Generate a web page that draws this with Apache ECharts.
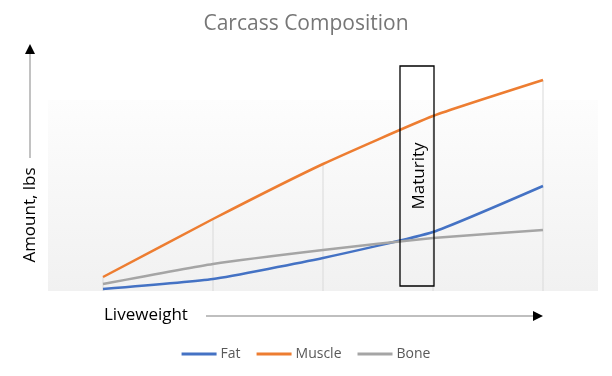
<!DOCTYPE html>
<html>
<head>
<meta charset="utf-8">
<script src="https://cdn.jsdelivr.net/npm/echarts@6/dist/echarts.min.js"></script>
<style>
	html, body {margin: 0; padding: 0; background: #fff;}
	#chart {width: 612px; height: 376px;}
</style>
</head>
<body>
<div id="chart"></div>
<script>
var aStages = ["1", "2", "3", "4", "5"];
var aFat = [2, 12, 33, 59, 105];
var aMuscle = [14, 72, 127, 175, 211];
var aBone = [7, 27, 41, 53, 61];
var aLegend = ["Fat", "Muscle", "Bone"];

var sFont = "Open Sans";

function lineSeries(name, data, color) {
	return {
		name: name,
		type: "line",
		data: data,
		smooth: 0.15,
		symbol: "none",
		clip: false,
		z: 5,
		lineStyle: {color: color, width: 2.5},
		itemStyle: {color: color}
	};
}

var oChart = echarts.init(document.getElementById("chart"));
var oChartOpt = {
	animation: false,
	title: {
		text: "Carcass Composition",
		left: "center",
		top: 9,
		textStyle: {fontFamily: sFont, fontSize: 21, fontWeight: "normal", color: "#767676"}
	},
	legend: {
		data: aLegend,
		bottom: 10,
		left: "center",
		icon: "rect",
		itemWidth: 35,
		itemHeight: 3,
		itemGap: 16,
		textStyle: {fontFamily: sFont, fontSize: 14, color: "#595959", padding: [0, 0, 0, -1]}
	},
	grid: {
		left: 48,
		right: 14,
		top: 100,
		bottom: 85,
		show: true,
		borderWidth: 0,
		backgroundColor: new echarts.graphic.LinearGradient(0, 0, 0, 1, [
			{offset: 0, color: "#fdfdfd"},
			{offset: 1, color: "#f1f1f1"}
		])
	},
	xAxis: {
		type: "category",
		data: aStages,
		boundaryGap: true,
		axisLine: {show: false},
		axisTick: {show: false},
		axisLabel: {show: false},
		splitLine: {show: false}
	},
	yAxis: {
		type: "value",
		min: 0,
		max: 191,
		show: false,
		splitLine: {show: false}
	},
	series: [
		// drop lines from the top series
		{
			name: "drop",
			type: "bar",
			data: aMuscle,
			barWidth: 1,
			clip: false,
			z: 1,
			itemStyle: {color: "#d9d9d9"},
			silent: true
		},
		lineSeries("Fat", aFat, "#4472C4"),
		lineSeries("Muscle", aMuscle, "#ED7D31"),
		lineSeries("Bone", aBone, "#A5A5A5")
	],
	graphic: [
		// y axis title with arrow
		{type: "line", shape: {x1: 30, y1: 158, x2: 30, y2: 52}, style: {stroke: "#999", lineWidth: 1.2}},
		{type: "polygon", shape: {points: [[30, 44], [25, 54], [35, 54]]}, style: {fill: "#000"}},
		{
			type: "text", x: 30, y: 215, rotation: Math.PI / 2,
			style: {text: "Amount, lbs", font: "17px " + sFont, fill: "#000", align: "center", verticalAlign: "middle"}
		},
		// x axis title with arrow
		{
			type: "text", x: 104, y: 315,
			style: {text: "Liveweight", font: "17px " + sFont, fill: "#000", align: "left", verticalAlign: "middle"}
		},
		{type: "line", shape: {x1: 206, y1: 316, x2: 535, y2: 316}, style: {stroke: "#808080", lineWidth: 1.2}},
		{type: "polygon", shape: {points: [[543, 316], [533, 311], [533, 321]]}, style: {fill: "#000"}},
		// maturity box
		{
			type: "rect", z: 10,
			shape: {x: 400, y: 66, width: 34, height: 220},
			style: {fill: "none", stroke: "#000", lineWidth: 1.3}
		},
		{
			type: "text", x: 419, y: 176, rotation: Math.PI / 2, z: 10,
			style: {text: "Maturity", font: "17px " + sFont, fill: "#000", align: "center", verticalAlign: "middle"}
		}
	]
};
oChart.setOption(oChartOpt);
</script>
</body>
</html>
